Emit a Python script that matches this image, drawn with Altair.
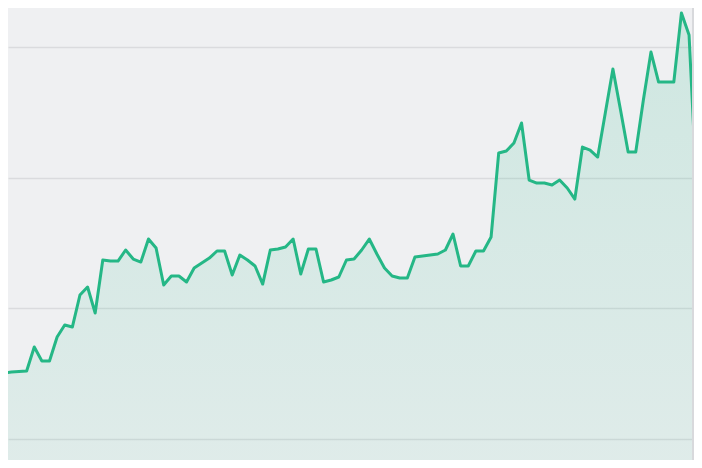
import altair as alt
import pandas as pd

# index of sample along the x axis
idx = list(range(93))
# series values
values = [
    27.50, 30.10, 30.26, 30.33, 30.41, 34.08, 31.94, 31.94, 35.61, 37.45,
    37.14, 42.04, 43.27, 39.29, 47.40, 47.24, 47.24, 48.93, 47.55, 47.09,
    50.61, 49.23, 43.57, 44.95, 44.95, 44.03, 46.17, 46.94, 47.70, 48.78,
    48.78, 45.10, 48.16, 47.40, 46.48, 43.72, 48.93, 49.08, 49.39, 50.61,
    45.26, 49.08, 49.08, 44.03, 44.34, 44.80, 47.40, 47.55, 48.93, 50.61,
    48.32, 46.17, 44.95, 44.64, 44.64, 47.86, 48.01, 48.16, 48.32, 48.93,
    51.38, 46.48, 46.48, 48.78, 48.78, 50.92, 63.78, 64.08, 65.31, 68.37,
    59.64, 59.18, 59.18, 58.88, 59.64, 58.42, 56.73, 64.69, 64.23, 63.16,
    69.90, 76.63, 70.36, 63.93, 63.93, 71.89, 79.23, 74.64, 74.64, 74.64,
    85.20, 81.84, 58.00,
]
grid_values = [20, 40, 60, 80]
x_domain = [1.55, 91.65]
y_domain = [16.79, 85.97]

W, H = 686, 452
LINE = "#25b786"

df = pd.DataFrame({"i": idx, "v": values})

x = alt.X("i:Q", scale=alt.Scale(domain=x_domain, nice=False, zero=False), axis=None)
y = alt.Y("v:Q", scale=alt.Scale(domain=y_domain, nice=False, zero=False),
          axis=alt.Axis(values=grid_values, grid=True, labels=False, ticks=False,
                        domain=False, title=None, gridColor="#dadbde", gridWidth=1.5))

area = alt.Chart(df).mark_area(
    clip=True,
    interpolate="linear",
    color=alt.Gradient(
        gradient="linear",
        stops=[alt.GradientStop(color="rgba(37,183,134,0.16)", offset=0),
               alt.GradientStop(color="rgba(37,183,134,0.06)", offset=1)],
        x1=1, x2=1, y1=0, y2=1,
    ),
).encode(x=x, y=y, y2=alt.value(H))

line = alt.Chart(df).mark_line(
    clip=True, color=LINE, strokeWidth=3, strokeJoin="round", strokeCap="round"
).encode(x=x, y=y)

edge = alt.Chart(df).mark_rule(color="#d8d9dc", strokeWidth=2).encode(
    x=alt.value(W - 1), y=alt.value(0), y2=alt.value(H)
)

chart = alt.layer(area, line, edge).properties(
    width=W, height=H, padding=0, autosize=alt.AutoSizeParams(type="none"),
    background="#eff0f2",
).configure_view(stroke=None)

chart.save("out.html", embed_options={"renderer": "svg", "actions": False})
